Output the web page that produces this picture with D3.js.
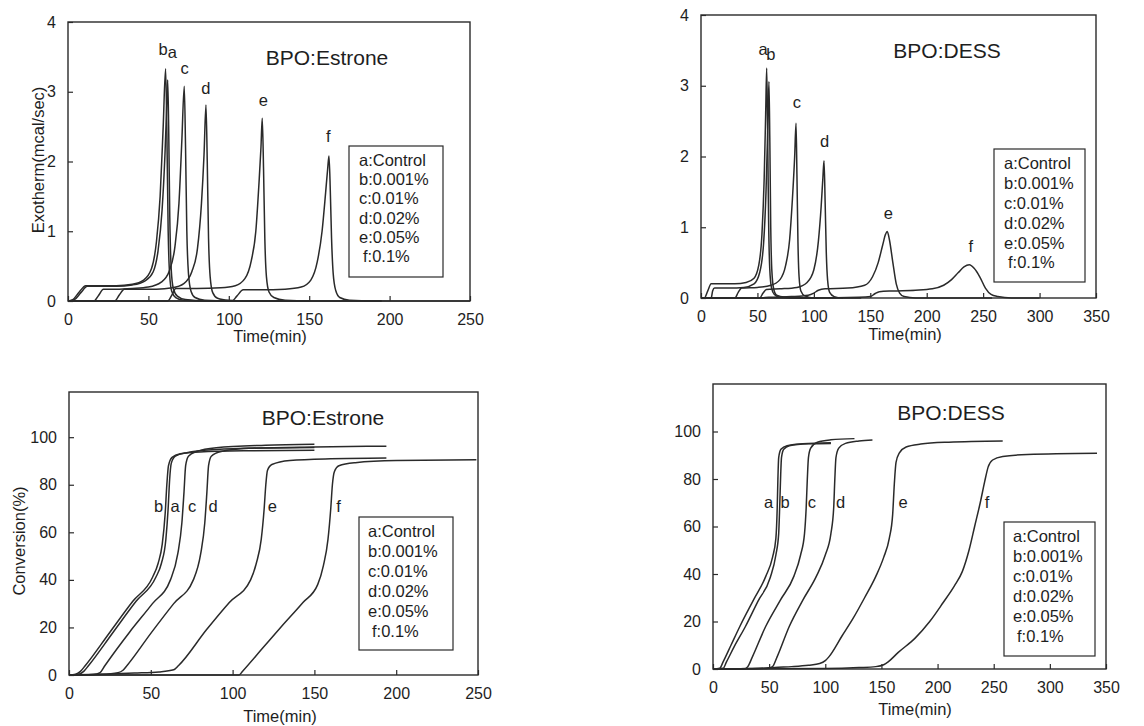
<!DOCTYPE html>
<html>
<head>
<meta charset="utf-8">
<script src="https://cdn.jsdelivr.net/npm/d3@7"></script>
<style>
  body { margin: 0; background: #fff; }
  svg text { font-family: "Liberation Sans", Arial, sans-serif; fill: #1e1e1e; }
</style>
</head>
<body>
<svg id="chart" width="1144" height="726"></svg>
<script>
//Shared labels and ticks
const seriesKeys = ["a", "b", "c", "d", "e", "f"];
const legendLabels = ["a:Control", "b:0.001%", "c:0.01%", "d:0.02%", "e:0.05%", "f:0.1%"];
const ticks250 = [0, 50, 100, 150, 200, 250];
const ticks350 = [0, 50, 100, 150, 200, 250, 300, 350];
const heatTicks = [0, 1, 2, 3, 4];
const convTicks = [0, 20, 40, 60, 80, 100];

//Exotherm, BPO:Estrone  [time(min), mcal/sec]
const estroneHeat = {
  a: [[0,0],[4,0.02],[8,0.12],[12,0.21],[20,0.21],[30,0.21],[40,0.23],[48,0.29],[53,0.42],[56,0.72],[58.5,1.3],[60.3,2.1],[61.4,2.8],[62,3.17],[62.6,2.5],[63.3,1.2],[64.2,0.45],[65.5,0.18],[68,0.07],[73,0.02],[85,0],[150,0]],
  b: [[0,0],[3,0.02],[7,0.13],[11,0.22],[20,0.22],[30,0.22],[40,0.24],[47,0.3],[52,0.47],[55,0.85],[57.3,1.5],[59.2,2.5],[60.7,3.33],[61.5,2.4],[62.3,1.0],[63.2,0.38],[64.5,0.14],[67,0.05],[72,0.01],[85,0],[150,0]],
  c: [[0,0],[16,0],[19,0.08],[22,0.17],[30,0.17],[40,0.18],[50,0.2],[58,0.27],[63,0.43],[66.5,0.78],[69,1.4],[70.8,2.3],[72.3,3.08],[73.1,2.2],[73.9,1.0],[74.9,0.4],[76.5,0.14],[79,0.05],[85,0.01],[100,0],[150,0]],
  d: [[0,0],[29,0],[32,0.09],[35,0.17],[45,0.17],[55,0.17],[65,0.19],[72,0.25],[77,0.42],[80.5,0.75],[83,1.4],[84.6,2.1],[85.8,2.81],[86.6,2.0],[87.4,0.9],[88.4,0.35],[90,0.12],[93,0.04],[100,0.01],[110,0],[195,0]],
  e: [[0,0],[62,0],[64.5,0.08],[67,0.18],[80,0.18],[95,0.19],[104,0.22],[110,0.32],[114,0.58],[116.8,1.0],[118.8,1.7],[120,2.2],[120.8,2.62],[121.6,1.9],[122.4,0.9],[123.4,0.35],[125,0.13],[128,0.05],[135,0.01],[150,0],[195,0]],
  f: [[0,0],[102,0],[105,0.07],[109,0.16],[120,0.16],[135,0.17],[145,0.2],[151,0.3],[155,0.56],[158,1.0],[160.2,1.55],[161.5,1.9],[162.3,2.08],[163.1,1.6],[163.9,0.9],[164.9,0.4],[166.5,0.15],[169,0.05],[175,0.01],[190,0],[250,0]]
};

//Exotherm, BPO:DESS
const dessHeat = {
  a: [[0,0],[3,0],[6,0.1],[9,0.2],[20,0.2],[30,0.2],[40,0.22],[47,0.28],[51,0.45],[54,0.9],[56,1.7],[57.3,2.6],[58.2,3.25],[59,2.4],[59.9,1.1],[60.9,0.42],[62.5,0.14],[65,0.05],[70,0.01],[80,0],[105,0]],
  b: [[0,0],[9,0],[10.3,0.1],[12,0.14],[25,0.14],[38,0.15],[47,0.2],[52,0.36],[55.5,0.78],[57.6,1.5],[59.1,2.35],[60.2,3.06],[61,2.2],[61.8,1.0],[62.8,0.38],[64.5,0.12],[67,0.04],[75,0.01],[85,0],[105,0]],
  c: [[0,0],[30,0],[33,0.08],[36,0.14],[50,0.15],[62,0.18],[70,0.26],[75,0.46],[78.5,0.82],[81,1.4],[83,2.0],[84.2,2.47],[85,1.75],[85.9,0.8],[86.9,0.3],[88.5,0.1],[92,0.03],[100,0],[126,0]],
  d: [[0,0],[52,0],[55,0.07],[58,0.12],[70,0.13],[85,0.15],[94,0.22],[100,0.4],[104,0.8],[106.5,1.3],[108,1.7],[109,1.94],[110,1.35],[111,0.65],[112.2,0.25],[114,0.08],[118,0.02],[125,0],[142,0]],
  e: [[0,0],[52,0],[60,0.01],[80,0.02],[95,0.04],[100,0.07],[104,0.11],[110,0.13],[130,0.14],[145,0.18],[152,0.3],[157,0.5],[161,0.75],[163.5,0.9],[165,0.94],[167,0.82],[170,0.5],[173,0.2],[176,0.07],[180,0.02],[190,0],[258,0]],
  f: [[0,0],[100,0],[140,0.01],[150,0.02],[154,0.06],[158,0.09],[170,0.1],[190,0.11],[205,0.13],[215,0.18],[222,0.26],[228,0.36],[233,0.44],[237.8,0.47],[242,0.42],[247,0.3],[252,0.14],[257,0.05],[263,0.02],[275,0],[300,0]]
};

//Conversion, BPO:Estrone  [time(min), %]
const estroneConv = {
  a: [[0,0],[6,0.3],[9,1.5],[12,4],[27,18],[41,31],[53,41],[56.5,47],[59.2,57],[60.6,70],[61.5,82],[62.5,89],[65,92],[72,93.5],[90,94.8],[120,95.5],[150,95.7]],
  b: [[0,0],[4,0.3],[7,1.5],[10,4],[25,18],[39,31],[51,41],[54.5,47],[57,55],[58.8,68],[59.8,80],[60.8,88],[63,91.5],[68,93],[80,93.8],[110,94.3],[150,94.5]],
  c: [[0,0],[15,0.2],[19,1],[22,4],[37,18],[51,30],[62,40],[66.5,51],[69,64],[70.3,77],[71.3,88],[73,92],[78,94],[90,95.6],[120,96.6],[150,97]],
  d: [[0,0],[20,0.3],[30,1],[33,2],[35.5,4],[50,17.5],[64,30],[76,40],[80.5,51],[83,64],[84.3,77],[85.3,88],[87,92],[93,94],[110,95.3],[150,95.9],[194,96.2]],
  e: [[0,0],[20,0.3],[40,0.8],[55,1.3],[64,2.2],[67,4],[84,19],[98,30.5],[111,40],[114.5,47],[117.5,57],[119.3,70],[120.3,80],[121.3,86],[124,88.5],[135,90.2],[160,90.9],[194,91.2]],
  f: [[0,0],[104,0],[106,1.5],[118,11],[130,20.5],[143,30.5],[152,38],[155.5,46],[158.3,57],[160,70],[161,80],[162.2,85.5],[165,88],[175,89.3],[200,90.2],[249,90.5]]
};

//Conversion, BPO:DESS
const dessConv = {
  a: [[0,0],[6,0.3],[9,3],[16,10],[24,18],[36,29],[47,39],[53,47],[56,55],[57.2,68],[57.8,80],[58.5,89],[60.5,92.5],[66,94],[80,94.8],[105,95.3]],
  b: [[0,0],[9,0.3],[12,3],[19,9.5],[29,18],[40,28.5],[51,38.5],[56,48],[58.5,57],[59.5,70],[60.3,82],[61,89],[63,92.5],[68,94],[85,94.8],[105,95]],
  c: [[0,0],[28,0],[31,1],[35,5],[47,18],[60,29],[72,39],[78,48],[81.5,57],[83,68],[84,80],[85,89],[87,93],[93,95.5],[105,96.5],[126,97]],
  d: [[0,0],[30,0.2],[50,0.5],[53,1],[57,5],[68,18],[80,29],[92,39],[100,48],[105,57],[107.5,68],[108.5,80],[109.5,89],[112,93],[118,95],[130,96],[142,96.4]],
  e: [[0,0],[45,0.2],[55,0.6],[70,1],[85,1.6],[95,2.3],[100,3.5],[103,5],[115,14],[125,21.5],[135,30],[145,39],[152,47],[157,55],[160,65],[161.5,78],[163,87],[166,91],[172,93.5],[185,94.7],[210,95.5],[258,96]],
  f: [[0,0],[100,0.2],[130,0.6],[145,1],[152,1.8],[156,3],[165,7],[180,13],[193,20],[205,28],[215,35],[222,41],[228,50],[233,60],[238,70],[242,79],[245,85],[249,88],[258,89.5],[280,90.3],[342,90.8]]
};

//Curve letters: [letter, time, value at text baseline]
const estroneHeatTags = [["b",59.1,3.52],["a",64.9,3.48],["c",72.6,3.25],["d",85.8,2.97],["e",121.5,2.8],["f",161.9,2.28]];
const dessHeatTags = [["a",55,3.44],["b",61.9,3.37],["c",85,2.68],["d",109.6,2.13],["e",166,1.12],["f",239,0.65]];
const estroneConvTags = [["b",54.8,68.6],["a",64.8,68.6],["c",75.2,68.6],["d",88.1,68.6],["e",124.3,68.6],["f",164.8,68.6]];
const dessConvTags = [["a",49.4,67.9],["b",64.3,67.9],["c",88,67.9],["d",113.7,67.9],["e",169.4,67.9],["f",244,67.9]];

const panels = [
  {box: [68, 22, 470, 301], xMax: 250, yMax: 4, xTicks: ticks250, yTicks: heatTicks,
   series: estroneHeat, tags: estroneHeatTags, title: "BPO:Estrone", titleAt: [327, 65],
   legend: [349, 146, 443, 277], legendText: [359, 165.7, 19.3],
   yLabel: "Exotherm(mcal/sec)", yLabelAt: [38, 160], xLabelAt: [270, 342]},
  {box: [701, 15, 1096, 298], xMax: 350, yMax: 4, xTicks: ticks350, yTicks: heatTicks,
   series: dessHeat, tags: dessHeatTags, title: "BPO:DESS", titleAt: [947, 58],
   legend: [994, 149, 1085, 282], legendText: [1004, 169.3, 19.8],
   yLabel: null, xLabelAt: [905, 340]},
  {box: [69, 392, 478, 675], xMax: 250, yMax: 119, xTicks: ticks250, yTicks: convTicks,
   series: estroneConv, tags: estroneConvTags, title: "BPO:Estrone", titleAt: [323, 425],
   legend: [359, 517, 453, 650], legendText: [368, 536.7, 20],
   yLabel: "Conversion(%)", yLabelAt: [19, 541], xLabelAt: [280, 722]},
  {box: [713, 384, 1106, 669], xMax: 350, yMax: 120, xTicks: ticks350, yTicks: convTicks,
   series: dessConv, tags: dessConvTags, title: "BPO:DESS", titleAt: [951, 420],
   legend: [1004, 522, 1095, 656], legendText: [1013, 541.7, 20.1],
   yLabel: null, xLabelAt: [915, 715]}
];

const svg = d3.select("#chart");
const ink = "#2a2a2a";

panels.forEach(drawPanel);

function drawPanel(p) {
  const [x0, y0, x1, y1] = p.box;
  const x = d3.scaleLinear().domain([0, p.xMax]).range([x0, x1]);
  const y = d3.scaleLinear().domain([0, p.yMax]).range([y1, y0]);
  const g = svg.append("g");

  //Curves
  const line = d3.line()
    .x(d => x(d[0]))
    .y(d => y(d[1]))
    .curve(d3.curveMonotoneX);
  g.append("g")
    .selectAll("path")
    .data(seriesKeys.map(k => p.series[k]))
    .join("path")
      .attr("d", line)
      .attr("fill", "none")
      .attr("stroke", ink)
      .attr("stroke-width", 1.5)
      .attr("stroke-linejoin", "round");

  //Axes with inward ticks, labels pushed out
  const fmt = d3.format("d");
  const xAxis = g.append("g")
    .attr("transform", `translate(0,${y1})`)
    .call(d3.axisBottom(x).tickValues(p.xTicks).tickFormat(fmt).tickSize(-5).tickPadding(13).tickSizeOuter(0));
  const yAxis = g.append("g")
    .attr("transform", `translate(${x0},0)`)
    .call(d3.axisLeft(y).tickValues(p.yTicks).tickFormat(fmt).tickSize(-5).tickPadding(12).tickSizeOuter(0));
  [xAxis, yAxis].forEach(ax => {
    ax.select(".domain").remove();
    ax.selectAll("line").attr("stroke", ink).attr("stroke-width", 1.2);
    ax.selectAll("text").attr("font-size", 16).attr("fill", "#1e1e1e")
      .style("font-family", '"Liberation Sans", Arial, sans-serif');
  });

  //Frame
  g.append("rect")
    .attr("x", x0).attr("y", y0)
    .attr("width", x1 - x0).attr("height", y1 - y0)
    .attr("fill", "none")
    .attr("stroke", ink)
    .attr("stroke-width", 1.4);

  //Curve letters
  g.append("g")
    .selectAll("text")
    .data(p.tags)
    .join("text")
      .attr("x", d => x(d[1]))
      .attr("y", d => y(d[2]))
      .attr("text-anchor", "middle")
      .attr("font-size", 16.5)
      .text(d => d[0]);

  //Title
  g.append("text")
    .attr("x", p.titleAt[0]).attr("y", p.titleAt[1])
    .attr("text-anchor", "middle")
    .attr("font-size", 21)
    .text(p.title);

  //Legend box
  const [lx0, ly0, lx1, ly1] = p.legend;
  g.append("rect")
    .attr("x", lx0).attr("y", ly0)
    .attr("width", lx1 - lx0).attr("height", ly1 - ly0)
    .attr("fill", "none")
    .attr("stroke", ink)
    .attr("stroke-width", 1.2);
  g.append("g")
    .selectAll("text")
    .data(legendLabels)
    .join("text")
      .attr("x", (d, i) => p.legendText[0] + (i === 5 ? 4 : 0))
      .attr("y", (d, i) => p.legendText[1] + i * p.legendText[2])
      .attr("font-size", 16.5)
      .text(d => d);

  //Axis titles
  g.append("text")
    .attr("x", p.xLabelAt[0]).attr("y", p.xLabelAt[1])
    .attr("text-anchor", "middle")
    .attr("font-size", 16.5)
    .text("Time(min)");
  if (p.yLabel) {
    g.append("text")
      .attr("transform", `translate(${p.yLabelAt[0]},${p.yLabelAt[1]}) rotate(-90)`)
      .attr("text-anchor", "middle")
      .attr("dy", "0.35em")
      .attr("font-size", 16.5)
      .text(p.yLabel);
  }
}
</script>
</body>
</html>
